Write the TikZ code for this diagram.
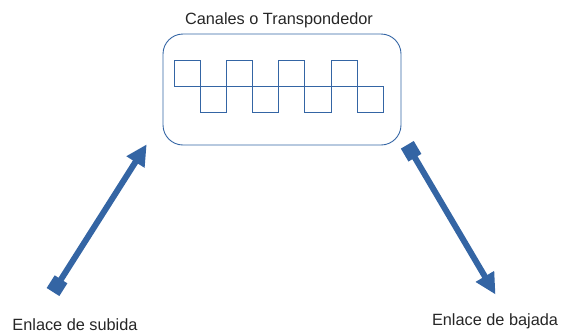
\documentclass[tikz,border=0pt]{standalone}
\usepackage{fontspec}
\setmainfont{Liberation Sans}
\usetikzlibrary{calc,arrows.meta,positioning}
\definecolor{cAzul}{RGB}{52,101,164}

\begin{document}
\begin{tikzpicture}[x=1pt,y=-1pt,
    linea/.style={draw=cAzul,line width=0.9pt},
    enlace/.style={draw=cAzul,line width=6pt,{Square[length=15pt,width=15pt]}-{Triangle[length=21pt,width=20pt]}},
    rotulo/.style={anchor=base,inner sep=0pt,text=black!85,font=\fontsize{16.3}{19}\selectfont}]
       \useasboundingbox (0,0) rectangle (561,333);
       %valores de la onda cuadrada
       \pgfmathsetmacro{\OndaX}{174}
       \pgfmathsetmacro{\OndaPaso}{26.16}
       \pgfmathsetmacro{\OndaMedio}{86}

       \coordinate (cCajaNO) at (163,34);
       \coordinate (cCajaSE) at (401,145);

       \coordinate (cSubidaIni) at (53,292);
       \coordinate (cSubidaFin) at (146.7,144.3);
       \coordinate (cBajadaIni) at (407.3,144.8);
       \coordinate (cBajadaFin) at (495.5,294.5);

       %caja del transpondedor
       \draw[linea,rounded corners=20pt] (cCajaNO) rectangle (cCajaSE);

       %onda cuadrada
       \foreach \i in {0,...,7}
       {
           \pgfmathsetmacro{\OndaY}{mod(\i,2)==0 ? 60.7 : 112.7}
           \draw[linea] (\OndaX+\i*\OndaPaso,\OndaY) rectangle ++(\OndaPaso,\OndaMedio-\OndaY);
       };

       %enlaces
       \draw[enlace] (cSubidaIni) -- (cSubidaFin);
       \draw[enlace] (cBajadaIni) -- (cBajadaFin);

       \foreach \n/\p/\t in
       {nCanales/{279,24}/Canales o Transpondedor,
           nSubida/{75,330}/Enlace de subida,
           nBajada/{495,325}/Enlace de bajada
        }
        {
            \node[rotulo] (\n) at (\p) {\t};
        };
\end{tikzpicture}
\end{document}
